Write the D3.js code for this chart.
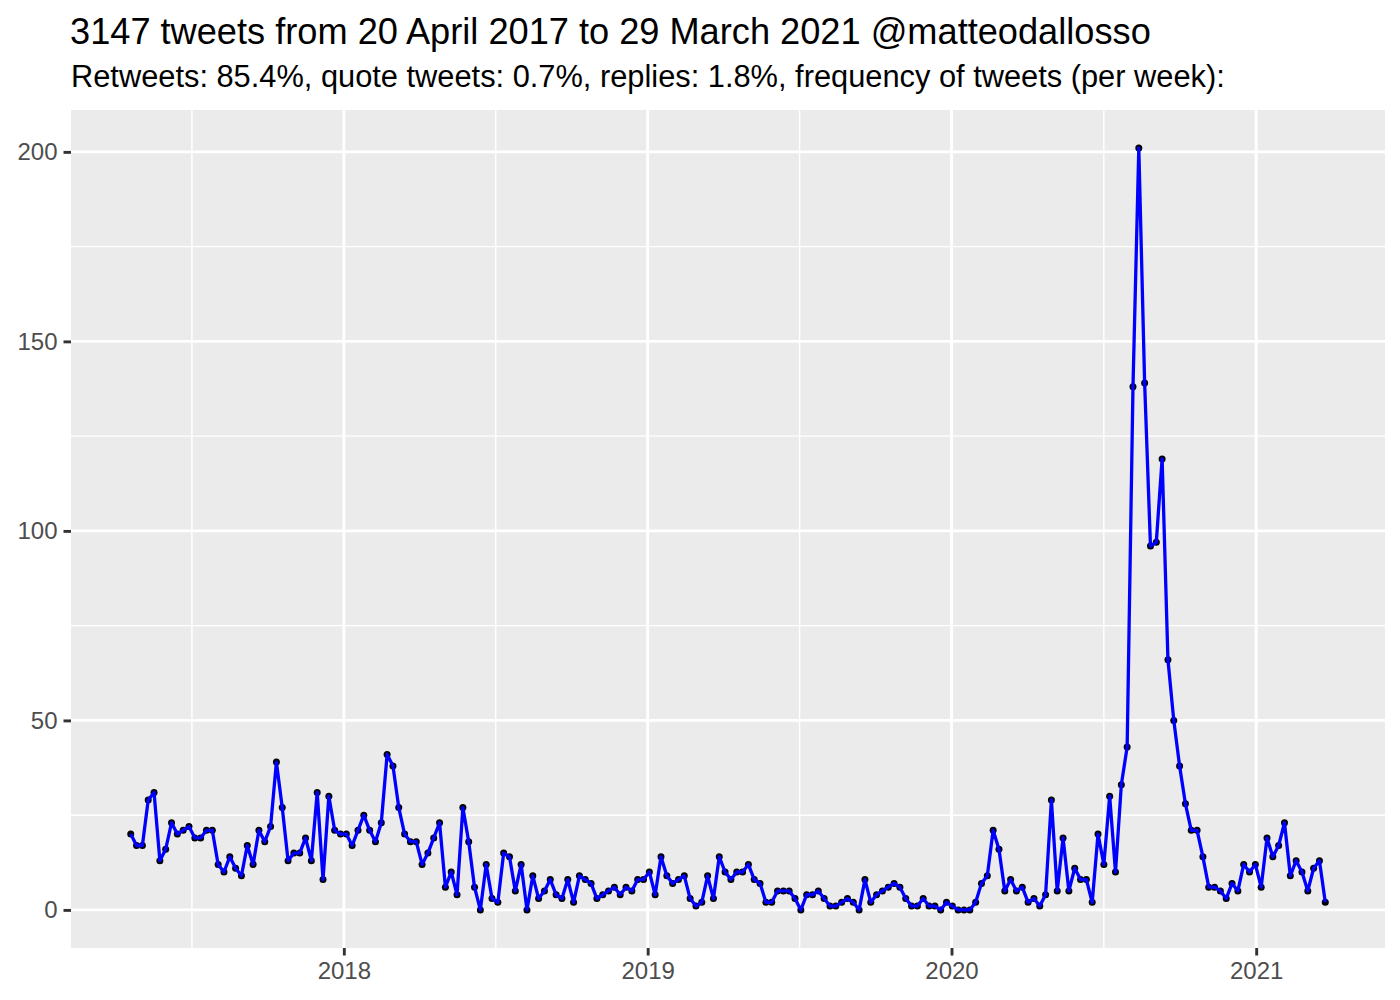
<!DOCTYPE html>
<html>
<head>
<meta charset="utf-8">
<script src="https://cdn.jsdelivr.net/npm/d3@7"></script>
<style>
  html, body { margin: 0; padding: 0; background: #ffffff; }
  svg { display: block; font-family: "Liberation Sans", Arial, Helvetica, sans-serif; }
</style>
</head>
<body>
<svg id="chart" width="1400" height="1000"></svg>
<script>
// ---------------- data ----------------
const titleText = "3147 tweets from 20 April 2017 to 29 March 2021 @matteodallosso";
const subtitleText = "Retweets: 85.4%, quote tweets: 0.7%, replies: 1.8%, frequency of tweets (per week):";

// first week starts on the date of the first tweet; one value per week
const firstWeekStart = "2017-04-20";
const tweetsPerWeek = [
  20,17,17,29,31,13,16,23,20,21,22,19,19,21,21,12,10,14,11,9,17,12,21,18,22,39,27,
  13,15,15,19,13,31,8,30,21,20,20,17,21,25,21,18,23,41,38,27,20,18,18,12,15,
  19,23,6,10,4,27,18,6,0,12,3,2,15,14,5,12,0,9,3,5,8,4,3,8,2,9,
  8,7,3,4,5,6,4,6,5,8,8,10,4,14,9,7,8,9,3,1,2,9,3,14,10,8,
  10,10,12,8,7,2,2,5,5,5,3,0,4,4,5,3,1,1,2,3,2,0,8,2,4,
  5,6,7,6,3,1,1,3,1,1,0,2,1,0,0,0,2,7,9,21,16,5,8,5,6,2,
  3,1,4,29,5,19,5,11,8,8,2,20,12,30,10,33,43,
  138,201,139,96,97,119,66,50,
  38,28,21,21,14,6,6,5,3,7,5,12,10,12,6,19,14,17,23,9,13,10,5,11,13,2
];
const yTickValues = [0, 50, 100, 150, 200];
const yMinorValues = [25, 75, 125, 175];
const xTickYears = [2018, 2019, 2020, 2021];

// ---------------- layout ----------------
const svg = d3.select("#chart");
const panel = { left: 71, right: 1385, top: 110, bottom: 948 };

const start = d3.utcParse("%Y-%m-%d")(firstWeekStart);
const data = tweetsPerWeek.map((v, i) => ({ date: d3.utcDay.offset(start, 7 * i), value: v }));

// ggplot-style 5% expansion
const xExt = d3.extent(data, d => d.date);
const xSpan = xExt[1] - xExt[0];
const x = d3.scaleUtc()
  .domain([new Date(+xExt[0] - 0.05 * xSpan), new Date(+xExt[1] + 0.05 * xSpan)])
  .range([panel.left, panel.right]);

const yMax = d3.max(data, d => d.value);
const yPad = 0.05 * yMax;
const y = d3.scaleLinear()
  .domain([0 - yPad, yMax + yPad])
  .range([panel.bottom, panel.top]);

svg.append("rect").attr("width", 1400).attr("height", 1000).attr("fill", "#ffffff");

// panel background
svg.append("rect")
  .attr("x", panel.left).attr("y", panel.top)
  .attr("width", panel.right - panel.left).attr("height", panel.bottom - panel.top)
  .attr("fill", "#EBEBEB");

const grid = svg.append("g");

// x minor gridlines: midpoints between year boundaries
const yearBounds = xTickYears.slice();
yearBounds.unshift(xTickYears[0] - 1);
yearBounds.push(xTickYears[xTickYears.length - 1] + 1);
const yearDates = yearBounds.map(yr => new Date(Date.UTC(yr, 0, 1)));
const xMinor = [];
for (let i = 0; i < yearDates.length - 1; i++) {
  const mid = new Date((+yearDates[i] + +yearDates[i + 1]) / 2);
  if (mid >= x.domain()[0] && mid <= x.domain()[1]) xMinor.push(mid);
}
const xMajor = xTickYears.map(yr => new Date(Date.UTC(yr, 0, 1)));

grid.selectAll(".yminor").data(yMinorValues).enter().append("line")
  .attr("x1", panel.left).attr("x2", panel.right)
  .attr("y1", d => y(d)).attr("y2", d => y(d))
  .attr("stroke", "#ffffff").attr("stroke-width", 1.45);
grid.selectAll(".xminor").data(xMinor).enter().append("line")
  .attr("y1", panel.top).attr("y2", panel.bottom)
  .attr("x1", d => x(d)).attr("x2", d => x(d))
  .attr("stroke", "#ffffff").attr("stroke-width", 1.45);
grid.selectAll(".ymajor").data(yTickValues).enter().append("line")
  .attr("x1", panel.left).attr("x2", panel.right)
  .attr("y1", d => y(d)).attr("y2", d => y(d))
  .attr("stroke", "#ffffff").attr("stroke-width", 2.9);
grid.selectAll(".xmajor").data(xMajor).enter().append("line")
  .attr("y1", panel.top).attr("y2", panel.bottom)
  .attr("x1", d => x(d)).attr("x2", d => x(d))
  .attr("stroke", "#ffffff").attr("stroke-width", 2.9);

// points (under the line)
svg.append("g").selectAll("circle").data(data).enter().append("circle")
  .attr("cx", d => x(d.date)).attr("cy", d => y(d.value))
  .attr("r", 3.5).attr("fill", "#000000");

// line
svg.append("path").datum(data)
  .attr("fill", "none").attr("stroke", "#0000FF").attr("stroke-width", 3.3)
  .attr("stroke-linejoin", "round")
  .attr("d", d3.line().x(d => x(d.date)).y(d => y(d.value)));

// axes
const yAxis = svg.append("g").attr("transform", `translate(${panel.left},0)`)
  .call(d3.axisLeft(y).tickValues(yTickValues).tickSize(7.5).tickPadding(6).tickFormat(d3.format("d")));
const xAxis = svg.append("g").attr("transform", `translate(0,${panel.bottom})`)
  .call(d3.axisBottom(x).tickValues(xMajor).tickSize(7.5).tickPadding(6).tickFormat(d3.utcFormat("%Y")));

[yAxis, xAxis].forEach(g => {
  g.select(".domain").remove();
  g.selectAll(".tick line").attr("stroke", "#333333").attr("stroke-width", 2.9);
  g.selectAll(".tick text").attr("fill", "#4D4D4D")
    .style("font-size", "24px").style("font-family", "'Liberation Sans', Arial, Helvetica, sans-serif");
});

// titles
svg.append("text").attr("x", 70).attr("y", 44)
  .attr("fill", "#000000").style("font-size", "36.2px").text(titleText);
svg.append("text").attr("x", 71).attr("y", 87)
  .attr("fill", "#000000").style("font-size", "30.8px").text(subtitleText);
</script>
</body>
</html>
